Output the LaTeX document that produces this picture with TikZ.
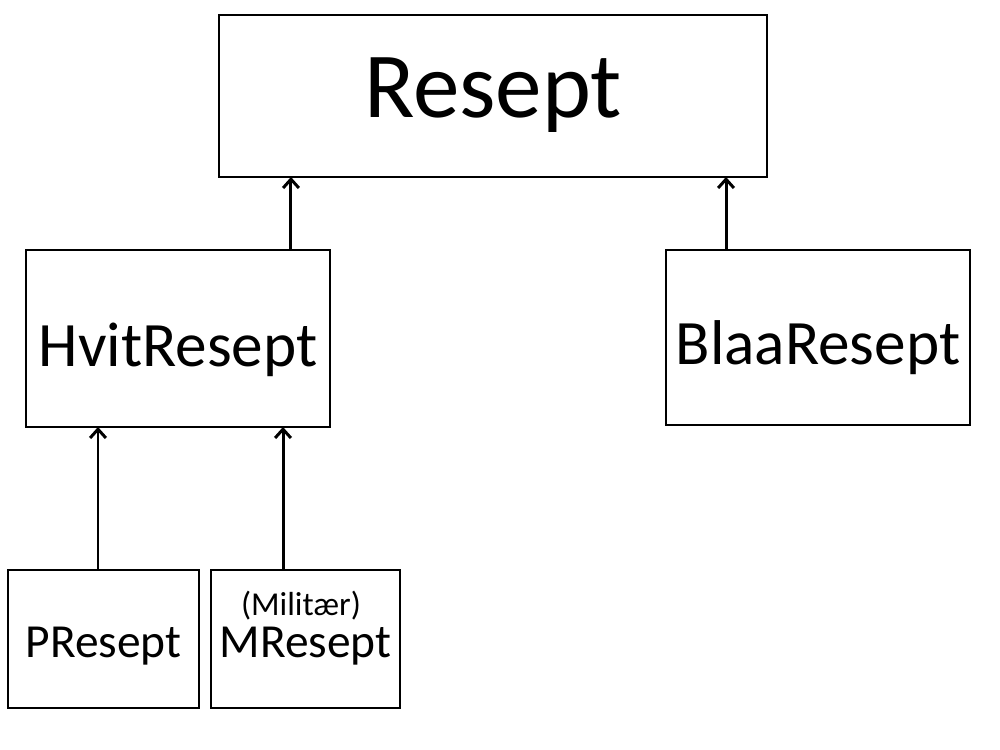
\documentclass[tikz,border=0pt]{standalone}
\usepackage{fontspec}
\setmainfont{Carlito}
\usepackage{tikz}
\usetikzlibrary{arrows.meta}

\begin{document}
\begin{tikzpicture}[x=0.02cm, y=-0.02cm, every node/.style={draw, line width=1.2pt, inner sep=0pt, outer sep=0pt, text depth=0pt}, arr/.style={-{Straight Barb[length=5pt, width=9pt]}, line width=1.7pt}]
  \useasboundingbox (0,0) rectangle (1000,750);
  \node[minimum width=10.96cm, minimum height=3.24cm, text height=0.88cm, font=\fontsize{53}{60}\selectfont] (resept) at (493,96) {Resept};
  \node[minimum width=6.08cm, minimum height=3.54cm, text height=1.14cm, font=\fontsize{36}{42}\selectfont] (hvit) at (178,338.5) {HvitResept};
  \node[minimum width=6.08cm, minimum height=3.5cm, text height=1.1cm, font=\fontsize{36}{42}\selectfont] (blaa) at (818,337.5) {BlaaResept};
  \node[minimum width=3.82cm, minimum height=2.76cm, text height=0.72cm, font=\fontsize{27}{32}\selectfont] (pres) at (103.5,639) {PResept};
  \node[minimum width=3.78cm, minimum height=2.76cm, text height=0.72cm, font=\fontsize{27}{32}\selectfont] (mres) at (305.5,639) {MResept};
  \node[draw=none, font=\fontsize{19}{22}\selectfont] (mil) at (301,603) {(Militær)};

  \draw[arr] ([xshift=2.26cm]hvit.north) -- ([xshift=2.26cm]hvit.north |- resept.south);
  \draw[arr] ([xshift=-1.84cm]blaa.north) -- ([xshift=-1.84cm]blaa.north |- resept.south);
  \draw[arr] ([xshift=-0.11cm]pres.north) -- ([xshift=-0.11cm]pres.north |- hvit.south);
  \draw[arr] ([xshift=-0.45cm]mres.north) -- ([xshift=-0.45cm]mres.north |- hvit.south);
\end{tikzpicture}
\end{document}
